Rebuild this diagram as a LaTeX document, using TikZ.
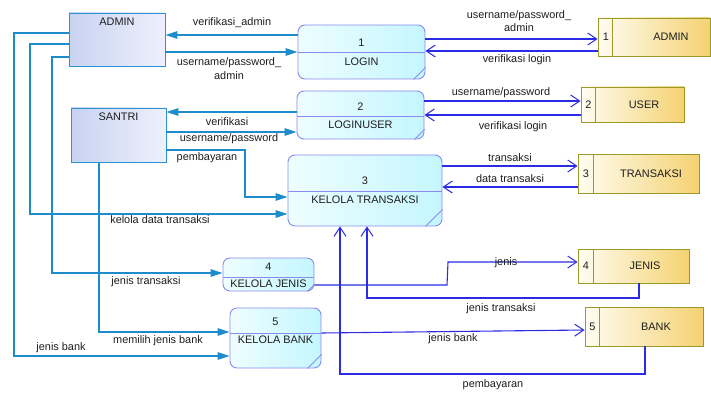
\documentclass[tikz,border=0pt]{standalone}
\usepackage{fontspec}
\setmainfont{Liberation Sans}
\usetikzlibrary{arrows.meta,calc}
\definecolor{pborder}{HTML}{8A8AF0}
\definecolor{pfillA}{HTML}{EEFEFF}
\definecolor{pfillB}{HTML}{C4F6FF}
\definecolor{eborder}{HTML}{2A94D0}
\definecolor{efillA}{HTML}{C8D3F2}
\definecolor{efillB}{HTML}{EEF0FC}
\definecolor{sborder}{HTML}{9A9A2A}
\definecolor{sfillA}{HTML}{FFFDF2}
\definecolor{sfillB}{HTML}{F5D272}
\definecolor{lcol}{HTML}{1C8CCB}
\definecolor{rcol}{HTML}{2B2BE6}
\definecolor{txt}{HTML}{1E1E1E}
\tikzset{
  proc/.style={draw=pborder, line width=0.9pt, rounded corners=7pt, left color=pfillA, right color=pfillB, inner sep=0pt},
  ent/.style={draw=eborder, line width=0.9pt, left color=efillA, right color=efillB, inner sep=0pt},
  store/.style={draw=sborder, line width=0.9pt, left color=sfillA, right color=sfillB, inner sep=0pt},
  tx/.style={text=txt, inner sep=0pt, font=\fontsize{10.9}{12}\selectfont},
  lc/.style={draw=lcol, line width=1.1pt, -{Triangle[length=12pt,width=7.5pt]}},
  rc/.style={draw=rcol, line width=1.1pt, -{Straight Barb[length=9pt,width=12pt,line width=1pt]}},
  pline/.style={draw=pborder, line width=0.9pt},
  sline/.style={draw=sborder, line width=0.9pt}
}
\begin{document}
\begin{tikzpicture}[x=1pt,y=-1pt]
\useasboundingbox (0,0) rectangle (711,393);
% external entities
\node[ent, minimum width=96pt, minimum height=53pt] (ea) at (117,39.5) {};
\node[tx] (eat) at (117,22) {ADMIN};
\node[ent, minimum width=95pt, minimum height=54pt] (es) at (118.5,135) {};
\node[tx] (est) at (118.5,117) {SANTRI};
% processes
\node[proc, minimum width=127pt, minimum height=54pt] (p1) at (361.5,52) {};
\draw[pline] (p1.west |- 0,52) -- (p1.east |- 0,52);
\draw[pline] ([yshift=12pt]p1.south east) -- ([xshift=-12pt]p1.south east);
\node[tx] (p1n) at (361.5,43) {1};
\node[tx] (p1t) at (361.5,62) {LOGIN};

\node[proc, minimum width=127pt, minimum height=48pt] (p2) at (360.5,115) {};
\draw[pline] (p2.west |- 0,116) -- (p2.east |- 0,116);
\draw[pline] ([yshift=10pt]p2.south east) -- ([xshift=-10pt]p2.south east);
\node[tx] (p2n) at (360.5,107) {2};
\node[tx] (p2t) at (360.5,124.5) {LOGINUSER};

\node[proc, minimum width=154pt, minimum height=71pt] (p3) at (365,190.5) {};
\draw[pline] (p3.west |- 0,191) -- (p3.east |- 0,191);
\draw[pline] ([yshift=17pt]p3.south east) -- ([xshift=-17pt]p3.south east);
\node[tx] (p3n) at (365,181) {3};
\node[tx] (p3t) at (365,199.5) {KELOLA TRANSAKSI};

\node[proc, minimum width=91pt, minimum height=33pt] (p4) at (268.5,274.5) {};
\draw[pline] (p4.west |- 0,277) -- (p4.east |- 0,277);
\draw[pline] ([yshift=7pt]p4.south east) -- ([xshift=-7pt]p4.south east);
\node[tx] (p4n) at (268.5,267) {4};
\node[tx] (p4t) at (268.5,284) {KELOLA JENIS};

\node[proc, minimum width=91pt, minimum height=60pt] (p5) at (275.5,338) {};
\draw[pline] (p5.west |- 0,333) -- (p5.east |- 0,333);
\draw[pline] ([yshift=14pt]p5.south east) -- ([xshift=-14pt]p5.south east);
\node[tx] (p5n) at (275.5,322) {5};
\node[tx] (p5t) at (275.5,340) {KELOLA BANK};
% data stores
\node[store, minimum width=112pt, minimum height=38pt] (s1) at (654,37) {};
\draw[sline] ([xshift=15pt]s1.north west) -- ([xshift=15pt]s1.south west);
\node[tx] (s1n) at (606,37) {1};
\node[tx] (s1t) at (671,37) {ADMIN};

\node[store, minimum width=103pt, minimum height=35pt] (s2) at (632.5,104.5) {};
\draw[sline] ([xshift=15pt]s2.north west) -- ([xshift=15pt]s2.south west);
\node[tx] (s2n) at (588.5,104.5) {2};
\node[tx] (s2t) at (644,104.5) {USER};

\node[store, minimum width=121pt, minimum height=39pt] (s3) at (638.5,173.5) {};
\draw[sline] ([xshift=16pt]s3.north west) -- ([xshift=16pt]s3.south west);
\node[tx] (s3n) at (586,173.5) {3};
\node[tx] (s3t) at (651,173.5) {TRANSAKSI};

\node[store, minimum width=111pt, minimum height=34pt] (s4) at (633.5,266) {};
\draw[sline] ([xshift=16pt]s4.north west) -- ([xshift=16pt]s4.south west);
\node[tx] (s4n) at (586,266) {4};
\node[tx] (s4t) at (645,266) {JENIS};

\node[store, minimum width=118pt, minimum height=39pt] (s5) at (644,326.5) {};
\draw[sline] ([xshift=15pt]s5.north west) -- ([xshift=15pt]s5.south west);
\node[tx] (s5n) at (592.5,326.5) {5};
\node[tx] (s5t) at (656,326.5) {BANK};
% left connectors
\draw[lc] (p1.west |- 0,35) -- (ea.east |- 0,35);
\draw[lc] (ea.east |- 0,52) -- (p1.west |- 0,52);
\draw[lc] (p2.west |- 0,112) -- (es.east |- 0,112);
\draw[lc] (es.east |- 0,132) -- (p2.west |- 0,132);
\draw[lc] (es.east |- 0,150) -| (245,197) -- (p3.west |- 0,197);
\draw[lc] (ea.west |- 0,33) -| (14,356) -- (p5.west |- 0,356);
\draw[lc] (ea.west |- 0,44) -| (30,214) -- (p3.west |- 0,214);
\draw[lc] (ea.west |- 0,57) -| (52,273) -- (p4.west |- 0,273);
\draw[lc] (es.south -| 99,0) |- (p5.west |- 0,332);
% right connectors
\draw[rc] (p1.east |- 0,39) -- (s1.west |- 0,39);
\draw[rc] (s1.west |- 0,51) -- (p1.east |- 0,51);
\draw[rc] (p2.east |- 0,101) -- (s2.west |- 0,101);
\draw[rc] (s2.west |- 0,115) -- (p2.east |- 0,115);
\draw[rc] (p3.east |- 0,166) -- (s3.west |- 0,166);
\draw[rc] (s3.west |- 0,187) -- (p3.east |- 0,187);
\draw[rc] (p4.east |- 0,285) -- (447,285) -- (448,262) -- (s4.west |- 0,262);
\draw[rc] (s4.south -| 639,0) |- (367,298) -- (p3.south -| 367,0);
\draw[rc] (p5.east |- 0,333) -- (s5.west |- 0,330);
\draw[rc] (s5.south -| 645,0) |- (340,374) -- (p3.south -| 340,0);
% labels
\node[tx] (l1) at (232,23) {verifikasi\_admin};
\node[tx] (l2) at (229,63) {username/password\_};
\node[tx] (l2b) at (229,76) {admin};
\node[tx] (l3) at (227,122) {verifikasi};
\node[tx] (l4) at (229,139) {username/password};
\node[tx] (l5) at (207,158) {pembayaran};
\node[tx] (l6) at (160,220) {kelola data transaksi};
\node[tx] (l7) at (146,282) {jenis transaksi};
\node[tx] (l8) at (158,341) {memilih jenis bank};
\node[tx] (l9) at (61,348) {jenis bank};
\node[tx] (r1) at (519,16) {username/password\_};
\node[tx] (r1b) at (519,28) {admin};
\node[tx] (r2) at (517,60) {verifikasi login};
\node[tx] (r3) at (501,93) {username/password};
\node[tx] (r4) at (513,127) {verifikasi login};
\node[tx] (r5) at (510,158) {transaksi};
\node[tx] (r6) at (510,179) {data transaksi};
\node[tx] (r7) at (506,263) {jenis};
\node[tx] (r8) at (501,309) {jenis transaksi};
\node[tx] (r9) at (453,339) {jenis bank};
\node[tx] (r10) at (493,385) {pembayaran};
\end{tikzpicture}
\end{document}
